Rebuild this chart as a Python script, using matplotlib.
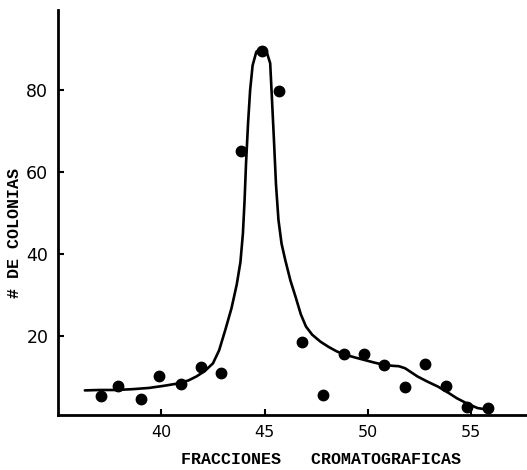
import matplotlib
matplotlib.use("Agg")
import matplotlib.pyplot as plt

# Measured points (fraction, % colonies)
frac_x = [37.1, 37.9, 39.0, 39.9, 40.95, 41.9, 42.9, 43.85, 44.85, 45.7,
          46.8, 47.85, 48.85, 49.8, 50.8, 51.8, 52.75, 53.8, 54.8, 55.8]
colonias_y = [5.4, 7.8, 4.7, 10.3, 8.2, 12.4, 11.0, 65.1, 89.5, 79.8,
              18.6, 5.5, 15.6, 15.6, 12.9, 7.6, 13.2, 7.8, 2.7, 2.5]

# Hand-drawn fitted curve
curve_x = [36.3, 37.0, 37.8, 38.6, 39.4, 40.1, 40.7, 41.3, 41.7, 42.1, 42.5,
           42.8, 43.1, 43.4, 43.65, 43.83, 43.95, 44.03, 44.1, 44.2, 44.3,
           44.42, 44.6, 44.85, 45.1, 45.27, 45.35, 45.45, 45.55, 45.67, 45.82,
           46.0, 46.25, 46.5, 46.75, 47.0, 47.3, 47.7, 48.1, 48.5, 48.9, 49.4,
           49.85, 50.3, 50.8, 51.2, 51.5, 51.8, 52.1, 52.4, 52.9, 53.4, 53.9,
           54.3, 54.8, 55.3, 55.8]
curve_y = [6.7, 6.8, 6.8, 7.0, 7.3, 7.8, 8.3, 9.1, 10.1, 11.4, 13.3,
           16.5, 21.5, 26.8, 32.5, 38.0, 45.0, 53.0, 62.0, 72.0, 80.0,
           86.0, 89.3, 90.3, 89.3, 86.5, 78.4, 68.0, 57.0, 48.3, 42.5,
           38.5, 33.5, 29.5, 25.3, 22.3, 20.3, 18.6, 17.3, 16.2, 15.4, 14.7,
           14.1, 13.5, 12.9, 12.7, 12.6, 12.1, 11.1, 10.1, 8.8, 7.6, 6.1,
           4.8, 3.5, 2.4, 2.0]

x_ticks = [40, 45, 50, 55]
y_ticks = [20, 40, 60, 80]

fig = plt.figure(figsize=(5.27, 4.70), dpi=100)
ax = fig.add_axes([58/527, 55/470, 1 - 58/527, 405/470])

ax.plot(curve_x, curve_y, color="black", lw=1.9, solid_capstyle="round",
        solid_joinstyle="round")
ax.plot(frac_x, colonias_y, "o", color="black", ms=7.5)

ax.set_xlim(35.0, 57.7)
ax.set_ylim(0.7, 99.5)
ax.set_xticks(x_ticks)
ax.set_yticks(y_ticks)
ax.tick_params(direction="in", length=4, width=1.5, color="black")
for lab in ax.get_xticklabels():
    lab.set_fontsize(11.5)
    lab.set_family("DejaVu Sans")
for lab in ax.get_yticklabels():
    lab.set_fontsize(12.5)
    lab.set_family("DejaVu Sans")
ax.tick_params(axis="x", pad=7)
ax.tick_params(axis="y", pad=7)

for s in ["top", "right"]:
    ax.spines[s].set_visible(False)
for s in ["left", "bottom"]:
    ax.spines[s].set_linewidth(2.0)
    ax.spines[s].set_color("black")

ax.set_xlabel("FRACCIONES   CROMATOGRAFICAS", family="Liberation Mono",
              fontweight="bold", fontsize=12)
ax.xaxis.set_label_coords(0.561, -0.109)
ax.xaxis.label.set_verticalalignment("center")

ax.set_ylabel("# DE COLONIAS", family="Liberation Mono",
              fontweight="bold", fontsize=12)
ax.yaxis.set_label_coords(-0.092, 0.449)
ax.yaxis.label.set_verticalalignment("center")

fig.savefig("out.png", dpi=100)
